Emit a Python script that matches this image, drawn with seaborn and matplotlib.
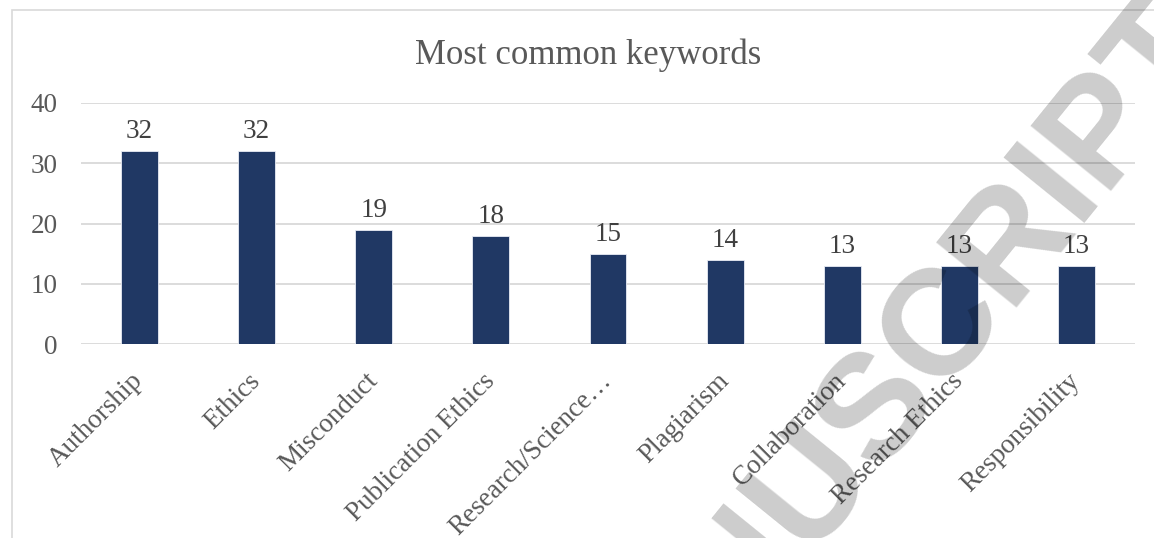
import matplotlib
matplotlib.use("Agg")
import matplotlib.pyplot as plt
import seaborn as sns
import pandas as pd
from matplotlib.patches import Rectangle

categories = ["Authorship", "Ethics", "Misconduct", "Publication Ethics",
              "Research/Science\u2026", "Plagiarism", "Collaboration",
              "Research Ethics", "Responsibility"]
counts = [32, 32, 19, 18, 15, 14, 13, 13, 13]
y_ticks = [0, 10, 20, 30, 40]
title = "Most common keywords"
watermark = "ACCEPTED MANUSCRIPT"

df = pd.DataFrame({"keyword": categories, "count": counts})

sns.set_theme(style="white")
plt.rcParams["font.family"] = ["Liberation Serif", "DejaVu Serif"]

W, H = 1154, 538
fig = plt.figure(figsize=(W / 100, H / 100), dpi=100)
fig.patch.set_facecolor("white")

# chart border (cropped on the right and bottom)
fig.patches.append(Rectangle((12 / W, -0.5), 2.0, 1 - 10 / H + 0.5,
                             transform=fig.transFigure, fill=False,
                             edgecolor="#d9d9d9", linewidth=1.2, zorder=0))

ax = fig.add_axes([81 / W, 1 - 344 / H, (1135 - 81) / W, (344 - 103) / H])
sns.barplot(data=df, x="keyword", y="count", color="#203864", width=0.315,
            edgecolor="#e8ecf4", linewidth=0.6, saturation=1, ax=ax, zorder=3)

ax.set_ylim(0, 40)
ax.set_yticks(y_ticks)
ax.set_xlim(-0.5, len(categories) - 0.5)
ax.yaxis.grid(True, color="#d9d9d9", linewidth=1.3, zorder=0)
ax.set_axisbelow(True)
for s in ax.spines.values():
    s.set_visible(False)
ax.set_xlabel("")
ax.set_ylabel("")
ax.tick_params(axis="y", length=0, pad=17, labelsize=19.5, labelcolor="#595959")
ax.tick_params(axis="x", length=0, pad=24, labelsize=19.5, labelcolor="#595959")
for lab in ax.get_xticklabels():
    lab.set_rotation(45)
    lab.set_ha("right")
    lab.set_va("center")
    lab.set_rotation_mode("anchor")

for cont in ax.containers:
    ax.bar_label(cont, labels=[str(v) for v in counts], padding=5,
                 fontsize=19.5, color="#404040")

fig.text(588 / W, 1 - 55 / H, title, ha="center", va="center",
         fontsize=25, color="#595959")

# watermark
fig.text(1195 / W, 1 - 25 / H, watermark, ha="right", va="center",
         rotation=51, rotation_mode="anchor", fontsize=108,
         fontfamily="Liberation Sans", fontweight="bold",
         color="black", alpha=0.2, zorder=10)

fig.savefig("out.png", dpi=100)
